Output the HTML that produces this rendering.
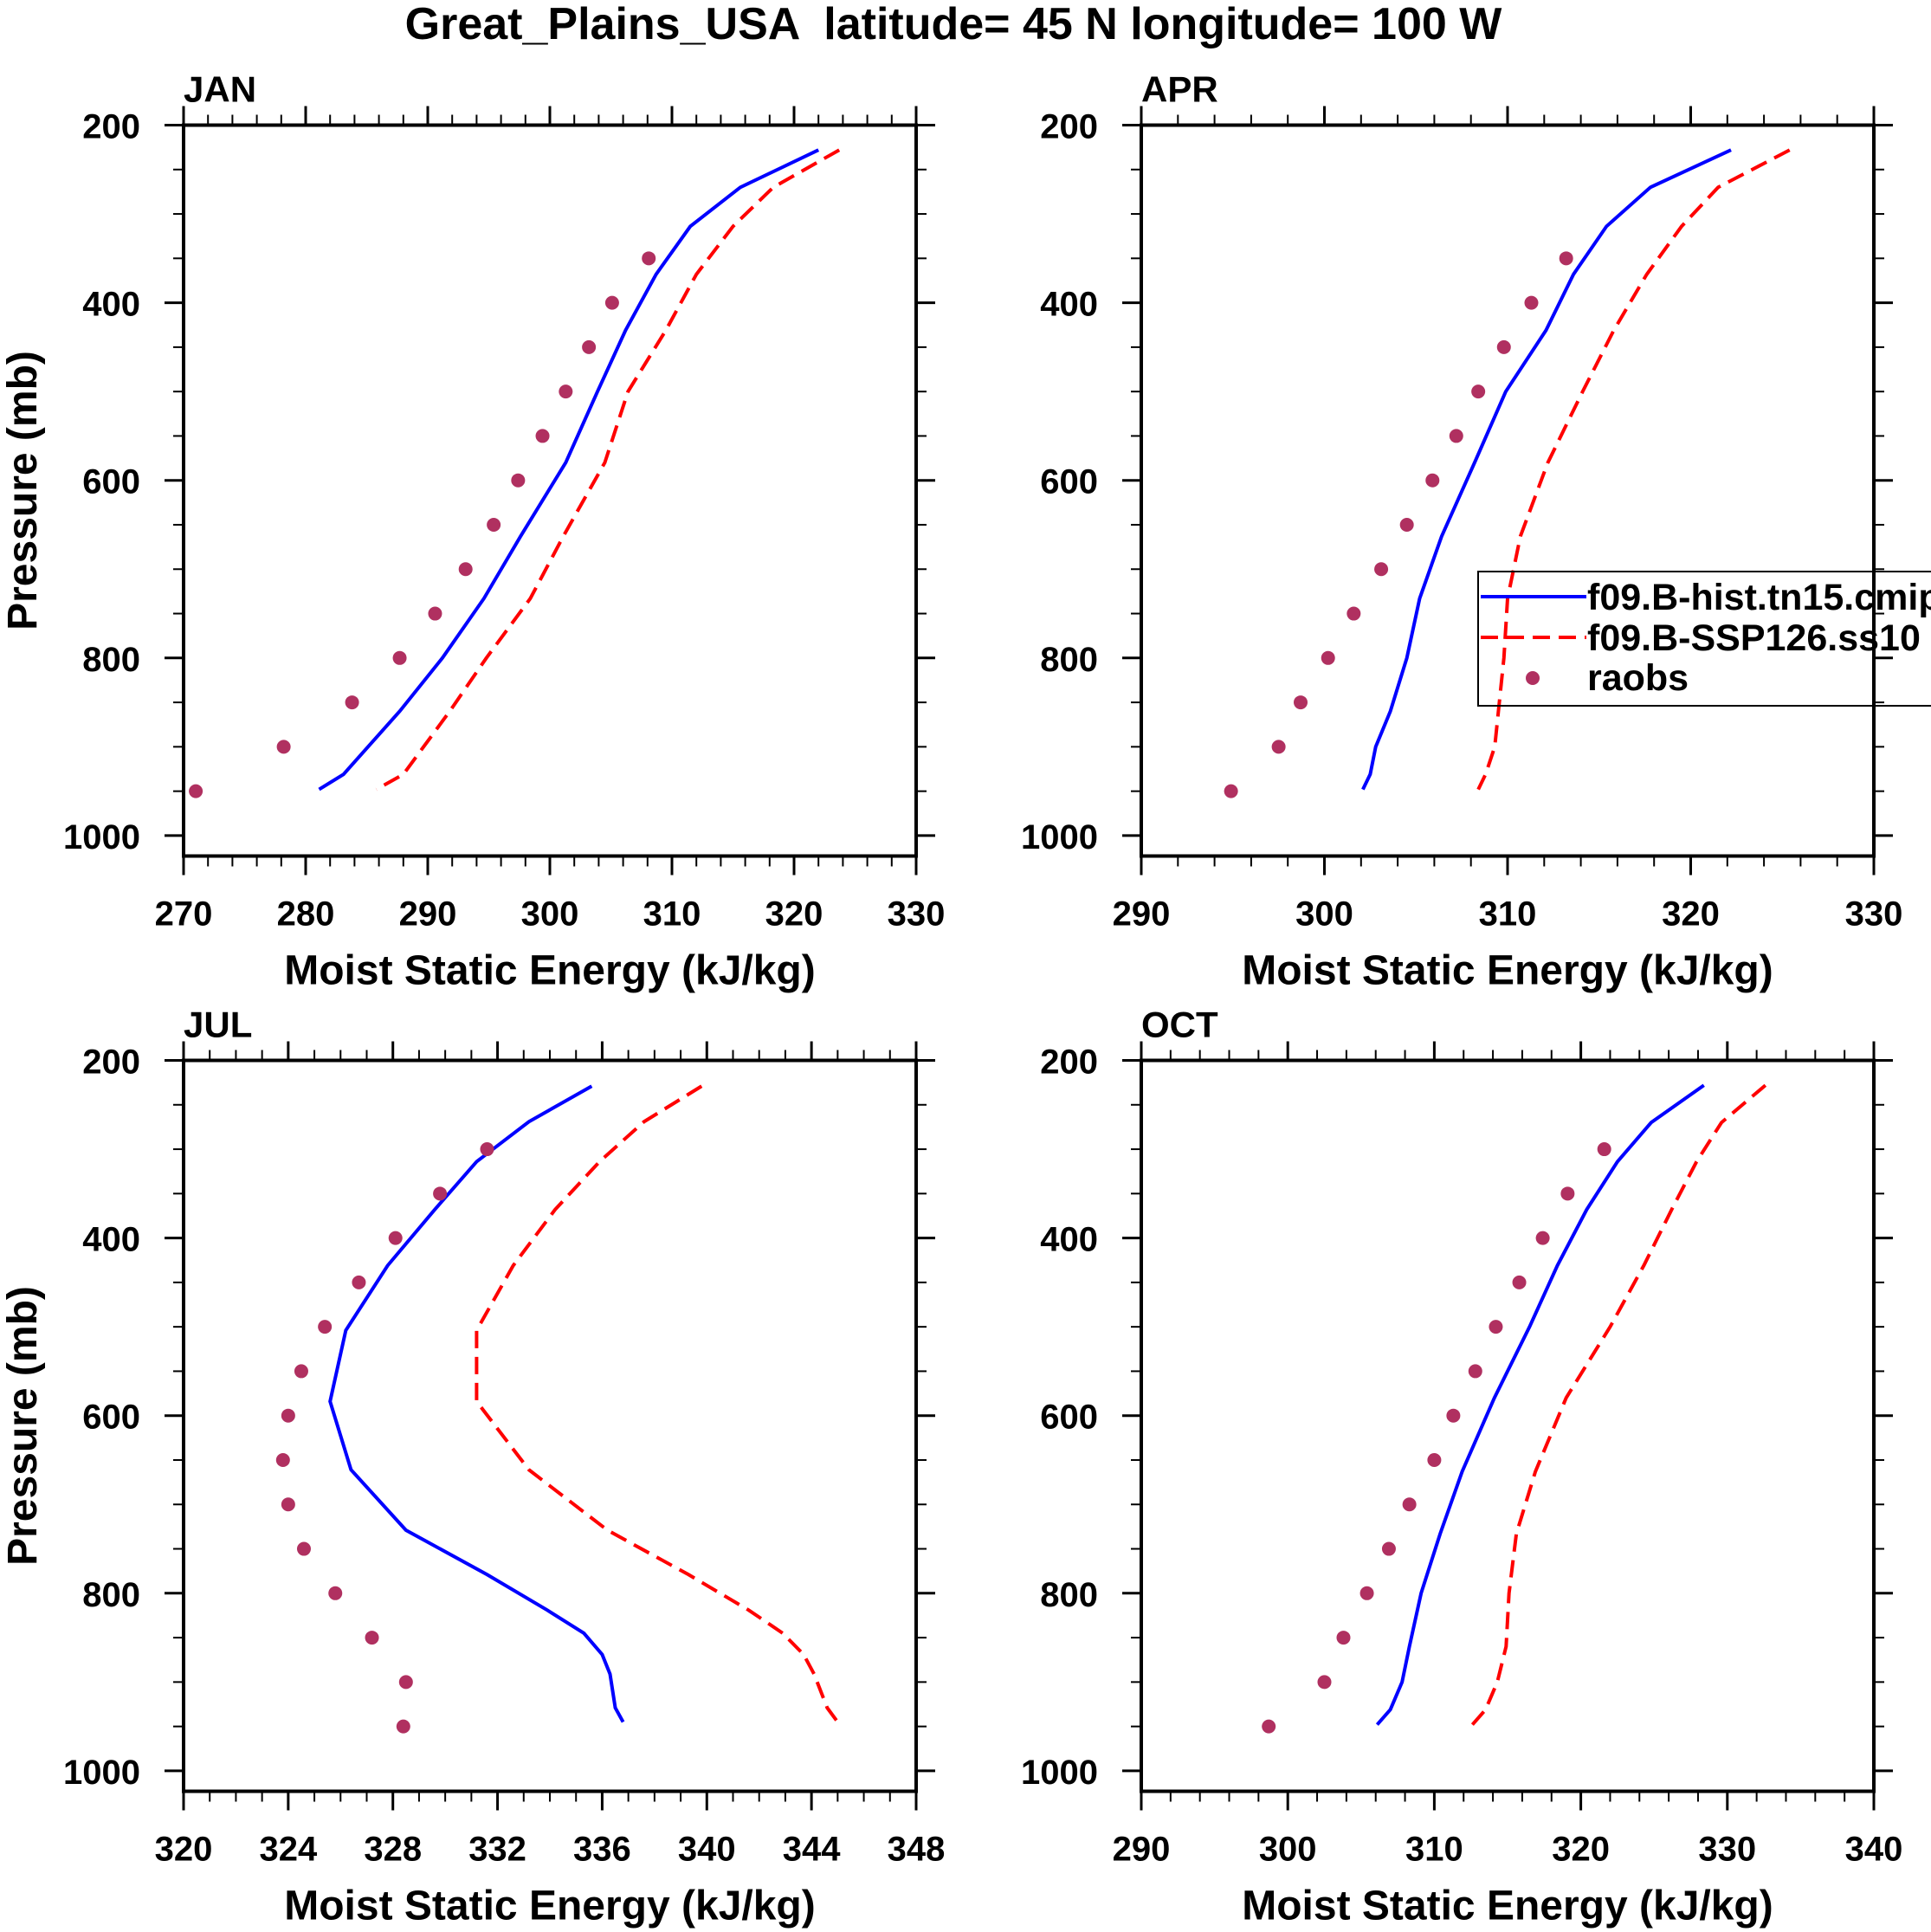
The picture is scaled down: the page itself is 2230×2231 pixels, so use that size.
<!DOCTYPE html>
<html><head><meta charset="utf-8"><style>
html,body{margin:0;padding:0;background:#fff}
svg{display:block;font-family:"Liberation Sans",Arial,sans-serif;font-weight:bold}
</style></head><body>
<svg id="chart" width="2230" height="2231" viewBox="0 0 2230 2231" xmlns="http://www.w3.org/2000/svg">
<text x="1101" y="45" font-size="52" text-anchor="middle" xml:space="preserve" style="white-space:pre">Great_Plains_USA  latitude= 45 N longitude= 100 W</text>
</svg>
<script>
// JAN
const janLev=[228,270,314,368,431,500,580,663,733,800,860,931,948];
const janHist=[322.0,315.6,311.5,308.7,306.2,303.9,301.3,297.6,294.6,291.2,287.7,283.1,281.1];
const janSsp=[323.7,318.3,315.0,312.0,309.5,306.4,304.5,301.1,298.4,294.8,291.8,288.0,285.8];
const janObsP=[350,400,450,500,550,600,650,700,750,800,850,900,950];
const janObs=[308.1,305.1,303.2,301.3,299.4,297.4,295.4,293.1,290.6,287.7,283.8,278.2,271.0];
const janTicks=[270,280,290,300,310,320,330];
// APR
const aprLev=[228,270,314,368,431,500,580,663,733,800,860,900,931,948];
const aprHist=[322.2,317.8,315.4,313.6,312.1,309.9,308.2,306.4,305.2,304.5,303.6,302.8,302.5,302.1];
const aprSsp=[325.4,321.5,319.5,317.6,315.8,314.1,312.2,310.7,310.0,309.8,309.5,309.3,308.8,308.4];
const aprObsP=[350,400,450,500,550,600,650,700,750,800,850,900,950];
const aprObs=[313.2,311.3,309.8,308.4,307.2,305.9,304.5,303.1,301.6,300.2,298.7,297.5,294.9];
const aprTicks=[290,300,310,320,330];
// JUL
const julLev=[229,269,314,368,431,504,584,661,729,779,819,845,869,891,929,945];
const julHist=[335.6,333.2,331.2,329.6,327.8,326.2,325.6,326.4,328.5,331.6,333.9,335.3,336.0,336.3,336.5,336.8];
const julSsp=[339.8,337.6,335.9,334.2,332.6,331.2,331.2,333.2,336.2,339.3,341.6,342.9,343.7,344.1,344.6,345.0];
const julObsP=[300,350,400,450,500,550,600,650,700,750,800,850,900,950];
const julObs=[331.6,329.8,328.1,326.7,325.4,324.5,324.0,323.8,324.0,324.6,325.8,327.2,328.5,328.4];
const julTicks=[320,324,328,332,336,340,344,348];
// OCT
const octLev=[228,270,314,368,431,500,580,663,733,800,860,900,931,948];
const octHist=[328.4,324.8,322.5,320.4,318.4,316.5,314.1,311.9,310.4,309.1,308.3,307.8,307.0,306.1];
const octSsp=[332.6,329.6,327.9,326.2,324.3,322.0,319.0,316.9,315.6,315.1,314.9,314.3,313.5,312.6];
const octObsP=[300,350,400,450,500,550,600,650,700,750,800,850,900,950];
const octObs=[321.6,319.1,317.4,315.8,314.2,312.8,311.3,310.0,308.3,306.9,305.4,303.8,302.5,298.7];
const octTicks=[290,300,310,320,330,340];
const yTicks=[200,400,600,800,1000];

const NS='http://www.w3.org/2000/svg';
const svg=document.getElementById('chart');
function mk(tag,attrs,parent){const e=document.createElementNS(NS,tag);for(const k in attrs)e.setAttribute(k,attrs[k]);(parent||svg).appendChild(e);return e;}

const panels=[
 {name:'jan',label:'JAN',x0:212,y0:144.5,lev:janLev,h:janHist,s:janSsp,op:janObsP,o:janObs,ticks:janTicks,ylab:true,sub:5},
 {name:'apr',label:'APR',x0:1318,y0:144.5,lev:aprLev,h:aprHist,s:aprSsp,op:aprObsP,o:aprObs,ticks:aprTicks,ylab:false,sub:5},
 {name:'jul',label:'JUL',x0:212,y0:1224.5,lev:julLev,h:julHist,s:julSsp,op:julObsP,o:julObs,ticks:julTicks,ylab:true,sub:4},
 {name:'oct',label:'OCT',x0:1318,y0:1224.5,lev:octLev,h:octHist,s:octSsp,op:octObsP,o:octObs,ticks:octTicks,ylab:false,sub:5}
];
const W=846,H=844,PMIN=200,PMAX=1023;
panels.forEach(p=>{
 const g=mk('g',{});
 
 
 const xmin=p.ticks[0],xmax=p.ticks[p.ticks.length-1];
 const X=v=>p.x0+(v-xmin)/(xmax-xmin)*W;
 const Y=v=>p.y0+(v-PMIN)/(PMAX-PMIN)*H;
 const step=p.ticks[1]-p.ticks[0];
 for(let i=0;i<p.ticks.length;i++){
  const x=X(p.ticks[i]);
  mk('line',{x1:x,x2:x,y1:p.y0,y2:p.y0-22,stroke:'#000','stroke-width':3},g);
  mk('line',{x1:x,x2:x,y1:p.y0+H,y2:p.y0+H+22,stroke:'#000','stroke-width':3},g);
  const t=mk('text',{x:x,y:p.y0+H+80,'font-size':40,'text-anchor':'middle'},g);
  t.textContent=p.ticks[i];
  
  
  if(i<p.ticks.length-1){for(let k=1;k<p.sub;k++){const xm=X(p.ticks[i]+step*k/p.sub);
   mk('line',{x1:xm,x2:xm,y1:p.y0,y2:p.y0-12,stroke:'#000','stroke-width':2},g);
   mk('line',{x1:xm,x2:xm,y1:p.y0+H,y2:p.y0+H+12,stroke:'#000','stroke-width':2},g);}}
 }
 for(let pv=200;pv<=1000;pv+=50){
  const y=Y(pv),maj=pv%200===0;const L=maj?22:12,sw=maj?3:2;
  mk('line',{x1:p.x0,x2:p.x0-L,y1:y,y2:y,stroke:'#000','stroke-width':sw},g);
  mk('line',{x1:p.x0+W,x2:p.x0+W+L,y1:y,y2:y,stroke:'#000','stroke-width':sw},g);
 }
 yTicks.forEach(v=>{const t=mk('text',{x:p.x0-50,y:Y(v)+15,'font-size':40,'text-anchor':'end'},g);t.textContent=v;
  
  });
 mk('rect',{x:p.x0,y:p.y0,width:W,height:H,fill:'none',stroke:'#000','stroke-width':4},g);
 const lab=mk('text',{x:p.x0,y:p.y0-27,'font-size':42},g);lab.textContent=p.label;
 
 
 const xt=mk('text',{x:p.x0+W/2,y:p.y0+H+148,'font-size':48,'text-anchor':'middle'},g);xt.textContent='Moist Static Energy (kJ/kg)';
 
 
 if(p.ylab){const yt=mk('text',{x:0,y:0,'font-size':48,'text-anchor':'middle',transform:`translate(42,${p.y0+H/2}) rotate(-90)`},g);yt.textContent='Pressure (mb)';
  
  }
 const hl=mk('polyline',{points:p.lev.map((l,i)=>X(p.h[i])+','+Y(l)).join(' '),fill:'none',stroke:'#0000ff','stroke-width':4},g);
 
 
 const sl=mk('polyline',{points:p.lev.map((l,i)=>X(p.s[i])+','+Y(l)).join(' '),fill:'none',stroke:'#ff0000','stroke-width':4,'stroke-dasharray':'20 10'},g);
 
 
 p.op.forEach((l,i)=>{const c=mk('circle',{cx:X(p.o[i]),cy:Y(l),r:8,fill:'#b03060'},g);
  
  });
});
// legend
const lg=mk('g',{});


mk('rect',{x:1707,y:660,width:600,height:155,fill:'none',stroke:'#000','stroke-width':2},lg);
mk('line',{x1:1710,x2:1832,y1:689,y2:689,stroke:'#0000ff','stroke-width':4},lg);
mk('line',{x1:1710,x2:1832,y1:736,y2:736,stroke:'#ff0000','stroke-width':4,'stroke-dasharray':'20 10'},lg);
mk('circle',{cx:1770,cy:783,r:8,fill:'#b03060'},lg);
[['f09.B-hist.tn15.cmip6',704,'legend-entry-hist'],['f09.B-SSP126.ss10',751,'legend-entry-ssp126'],['raobs',797,'legend-entry-raobs']].forEach(a=>{
 const t=mk('text',{x:1833,y:a[1],'font-size':43},lg);t.textContent=a[0];
 
 
});
</script>
</body></html>
